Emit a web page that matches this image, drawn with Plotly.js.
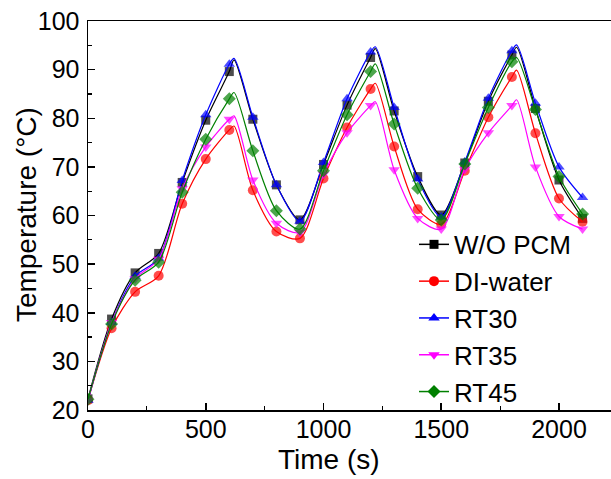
<!DOCTYPE html>
<html>
<head>
<meta charset="utf-8">
<script src="https://cdn.plot.ly/plotly-3.0.1.min.js"></script>
<style>
html,body{margin:0;padding:0;overflow:hidden;background:#fff;}
#chart{width:640px;height:479px;}
</style>
</head>
<body>
<div id="chart"></div>
<script>
// Time axis (s) for the markers
var time = [0,100,200,300,400,500,600,700,800,900,1000,1100,1200,1300,1400,1500,1600,1700,1800,1900,2000,2100];
// Peak times (curve maxima between markers)
var peakTime = [620,1220,1820];

var seriesNames = ['W/O PCM','DI-water','RT30','RT35','RT45'];

var woPCM   = [22.3,38.7,48.2,52.2,66.8,79.6,89.6,79.8,66.3,59.1,70.5,82.7,92.5,81.5,68.0,60.1,70.8,83.5,93.0,82.0,67.3,59.4];
var diWater = [22.0,36.8,44.3,47.6,62.4,71.6,77.6,65.2,56.7,55.3,67.6,78.1,86.0,74.2,61.3,58.2,69.2,80.2,88.5,76.9,63.5,58.7];
var rt30    = [22.0,38.0,47.5,51.2,67.2,80.7,91.1,80.2,66.3,58.8,70.9,84.0,93.6,82.2,67.5,59.7,71.0,84.1,93.9,83.1,70.0,63.7];
var rt35    = [22.0,38.0,47.0,51.0,65.5,74.1,79.8,67.3,58.4,56.5,68.5,77.0,82.6,69.4,59.4,57.2,69.5,77.0,82.6,70.0,59.8,57.2];
var rt45    = [22.2,37.7,46.7,50.4,64.8,75.7,84.0,73.3,61.0,57.2,69.2,80.7,89.6,78.8,65.6,59.1,70.6,82.2,91.6,81.8,68.0,60.3];

var woPCMPeak   = [92.0,94.3,94.6];
var diWaterPeak = [78.4,87.2,89.9];
var rt30Peak    = [92.3,94.7,95.1];
var rt35Peak    = [80.5,83.4,83.8];
var rt45Peak    = [85.3,91.2,92.5];

var xTicks = [0,500,1000,1500,2000];
var yTicks = [20,30,40,50,60,70,80,90,100];
var xTitle = 'Time (s)';
var yTitle = 'Temperature (°C)';

var allVals  = [woPCM, diWater, rt30, rt35, rt45];
var allPeaks = [woPCMPeak, diWaterPeak, rt30Peak, rt35Peak, rt45Peak];
var colors   = ['#000000','#ff0000','#0000ff','#ff00ff','#008000'];
var symbols  = ['square','circle','triangle-up','triangle-down','diamond'];
var sizes    = [9,10,10,10,10];

var traces = [];
allVals.forEach(function(vals, i){
  var pts = [];
  time.forEach(function(t, k){ pts.push({x:t, y:vals[k], m:true}); });
  peakTime.forEach(function(t, k){ pts.push({x:t, y:allPeaks[i][k], m:false}); });
  pts.sort(function(a,b){return a.x-b.x;});
  traces.push({
    x: pts.map(function(p){return p.x;}),
    y: pts.map(function(p){return p.y;}),
    mode: 'lines+markers',
    type: 'scatter',
    name: seriesNames[i],
    legendgroup: seriesNames[i],
    showlegend: false,
    line: {color: colors[i], width: 1.2, shape: 'spline', smoothing: 0.8},
    marker: {color: colors[i], symbol: symbols[i], size: pts.map(function(p){return p.m ? sizes[i] : 0;}), line:{width:0}},
    hoverinfo: 'skip'
  });
});
// legend entries
allVals.forEach(function(vals, i){
  traces.push({
    x: [null], y: [null],
    mode: 'lines+markers',
    type: 'scatter',
    name: seriesNames[i],
    legendgroup: seriesNames[i],
    showlegend: true,
    line: {color: colors[i], width: 1.5},
    marker: {color: colors[i], symbol: symbols[i], size: sizes[i]}
  });
});

var ff = 'Liberation Sans, Arial, sans-serif';

var layout = {
  width: 640, height: 479,
  margin: {l: 88, r: 0, t: 21, b: 69},
  paper_bgcolor: '#fff', plot_bgcolor: '#fff',
  showlegend: true,
  legend: {
    x: 0.5906, y: 0.486, xanchor: 'left', yanchor: 'top',
    font: {family: ff, size: 26, color: '#000'},
    bgcolor: 'rgba(0,0,0,0)', borderwidth: 0,
    itemwidth: 30, tracegroupgap: 0
  },
  xaxis: {
    range: [0, 2344],
    tickvals: xTicks,
    ticks: 'inside', ticklen: 7, tickwidth: 1.5, tickcolor: '#000',
    minor: {dtick: 250, ticks: 'inside', ticklen: 4, tickwidth: 1.2, tickcolor: '#000'},
    showline: true, linecolor: '#000', linewidth: 1.5, mirror: true,
    showgrid: false, zeroline: false,
    ticklabelstandoff: -4,
    tickfont: {family: ff, size: 25, color: '#000'}
  },
  yaxis: {
    range: [20, 100],
    tickvals: yTicks,
    ticks: 'inside', ticklen: 7, tickwidth: 1.5, tickcolor: '#000',
    minor: {dtick: 5, ticks: 'inside', ticklen: 4, tickwidth: 1.2, tickcolor: '#000'},
    showline: true, linecolor: '#000', linewidth: 1.5, mirror: true,
    showgrid: false, zeroline: false,
    ticklabelstandoff: 2,
    tickfont: {family: ff, size: 25, color: '#000'}
  },
  annotations: [
    {text: xTitle, xref: 'paper', yref: 'paper', x: 0.4366, y: -0.1285,
     xanchor: 'center', yanchor: 'middle', showarrow: false,
     font: {family: ff, size: 28, color: '#000'}},
    {text: yTitle, xref: 'paper', yref: 'paper', x: -0.1123, y: 0.501,
     xanchor: 'center', yanchor: 'middle', showarrow: false, textangle: -90,
     font: {family: ff, size: 28, color: '#000'}}
  ]
};

Plotly.newPlot('chart', traces, layout, {staticPlot: true, displayModeBar: false});
</script>
</body>
</html>
